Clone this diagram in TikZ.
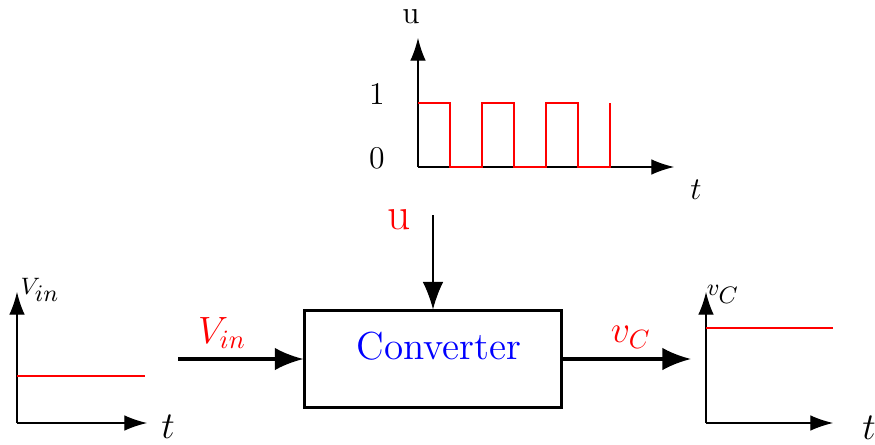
\documentclass[tikz,border=0pt]{standalone}
\usetikzlibrary{arrows.meta}
\begin{document}
\begin{tikzpicture}[x=0.3788pt,y=-0.3788pt,
  axis/.style={line width=0.45pt,-{Latex[length=8.6pt,width=5.9pt]}},
  sig/.style={line width=1.15pt,-{Latex[length=10.8pt,width=8.5pt]}},
  ctrl/.style={line width=0.5pt,-{Latex[length=10.4pt,width=7.8pt]}},
  wave/.style={red,line width=0.55pt},
  lbl/.style={inner sep=0pt},
  blk/.style={draw,line width=1.15pt,minimum width=97pt,minimum height=36.4pt,inner sep=0pt}]
\useasboundingbox (0,0) rectangle (875,444);

% ---- top plot (u)
\coordinate (to) at (418,167);
\coordinate (ty) at (418,38);
\coordinate (tx) at (674,167);
\draw[axis] (to) -- (ty);
\draw[axis] (to) -- (tx);
\draw[wave] (418,103) -- (450,103) -- (450,167) -- (482,167) -- (482,103) -- (514,103)
  -- (514,167) -- (546,167) -- (546,103) -- (578,103) -- (578,167) -- (610,167) -- (610,103);
\node[lbl,font=\large] (tu) at (411,17) {u};
\node[lbl,font=\large] (t1) at (377,93.5) {1};
\node[lbl,font=\large] (t0) at (377,158.5) {0};
\node[lbl,font=\large] (tt) at (696,190) {$t$};

% ---- converter block
\node[blk] (conv) at (433,359) {};
\node[lbl,font=\fontsize{14.8}{18}\selectfont,text=blue] (convtxt) at (439,346) {Converter};

% control input
\node[lbl,font=\LARGE,text=red] (ulab) at (399,220) {u};
\coordinate (ustart) at (433,215);
\draw[ctrl] (ustart) -- (conv.north -| ustart);

% input / output
\coordinate (instart) at (178,359);
\coordinate (outend) at (691,359);
\draw[sig] (instart) -- (conv.west);
\draw[sig] (conv.east) -- (outend);
\node[lbl,font=\Large,text=red] (vin) at (222,333) {$V_{in}$};
\node[lbl,font=\Large,text=red] (vc) at (631,337) {$v_C$};

% ---- left plot (Vin)
\coordinate (lo) at (17,423);
\coordinate (ly) at (17,292);
\coordinate (lx) at (147,423);
\draw[axis] (lo) -- (ly);
\draw[axis] (lo) -- (lx);
\draw[wave] (17,376) -- (145,376);
\node[lbl,font=\small] (lvin) at (40,290) {$V_{\textstyle in}$};
\node[lbl,font=\Large] (lt) at (168,427) {$t$};

% ---- right plot (vC)
\coordinate (ro) at (706,423);
\coordinate (ry) at (706,292);
\coordinate (rx) at (833,423);
\draw[axis] (ro) -- (ry);
\draw[axis] (ro) -- (rx);
\draw[wave] (706,328) -- (833,328);
\node[lbl,font=\small] (rvc) at (723,294) {$v_{\textstyle C}$};
\node[lbl,font=\Large] (rt) at (869,428) {$t$};
\end{tikzpicture}
\end{document}
